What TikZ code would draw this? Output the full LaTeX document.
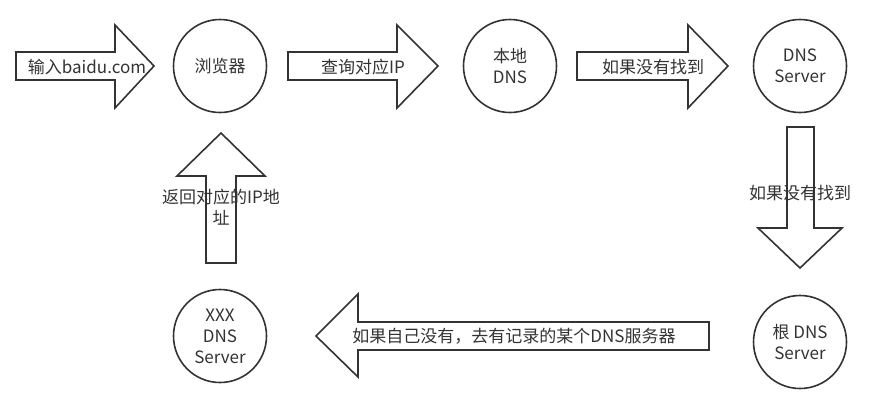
\documentclass[tikz,border=0pt]{standalone}
\usepackage{fontspec}
\setmainfont{Noto Sans CJK SC}
\definecolor{ink}{HTML}{333333}
\begin{document}
\begin{tikzpicture}[x=1pt,y=-1pt,
  every node/.style={text=ink,font=\fontsize{17}{21}\selectfont,inner sep=0pt},
  circ/.style={circle,draw=ink,line width=1.6pt,minimum size=93pt,align=center,fill=white},
  blockarrow/.style={draw=ink,line width=1.6pt,fill=white,line join=miter},
  lbl/.style={align=center}]
\useasboundingbox (0,0) rectangle (874,408);
% nodes
\node[circ] (browser) at (220,66) {浏览器};
\node[circ] (local) at (510,66) {本地\\DNS};
\node[circ] (server) at (800,66) {DNS\\Server};
\node[circ] (root) at (800,342) {根 DNS\\Server};
\node[circ] (xxx) at (220,336) {XXX\\DNS\\Server};
% block arrows
\draw[blockarrow] (16,52) -- (115,52) -- (115,25) -- (154,66) -- (115,108) -- (115,80) -- (16,80) -- cycle;
\draw[blockarrow] (288,52) -- (397,52) -- (397,25) -- (438,66) -- (397,108) -- (397,80) -- (288,80) -- cycle;
\draw[blockarrow] (577,52) -- (688,52) -- (688,25) -- (728,66) -- (688,108) -- (688,80) -- (577,80) -- cycle;
\draw[blockarrow] (787,127) -- (814,127) -- (814,228) -- (842,228) -- (800,268) -- (758,228) -- (787,228) -- cycle;
\draw[blockarrow] (709,322) -- (358,322) -- (358,294) -- (316,336) -- (358,377) -- (358,350) -- (709,350) -- cycle;
\draw[blockarrow] (206,263) -- (206,176) -- (177,176) -- (221,133) -- (265,176) -- (236,176) -- (236,263) -- cycle;
% labels
\node[lbl] (t1) at (87,67) {输入baidu.com};
\node[lbl] (t2) at (363,67) {查询对应IP};
\node[lbl] (t3) at (653,67) {如果没有找到};
\node[lbl] (t4) at (800,193) {如果没有找到};
\node[lbl] (t5) at (514,336) {如果自己没有，去有记录的某个DNS服务器};
\node[lbl] (t6) at (221,207) {返回对应的IP地\\址};
\end{tikzpicture}
\end{document}
